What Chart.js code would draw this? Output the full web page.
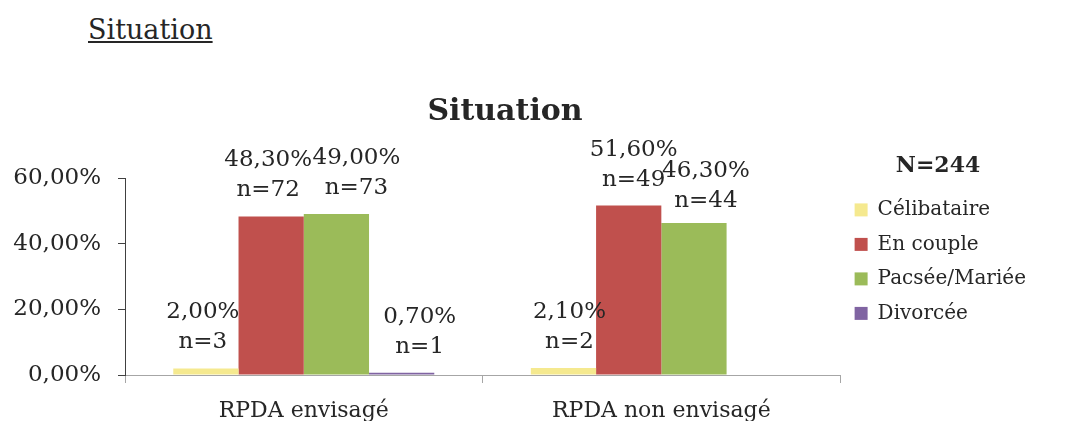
<!DOCTYPE html>
<html lang="fr">
<head>
<meta charset="utf-8">
<script src="https://cdn.jsdelivr.net/npm/chart.js@4/dist/chart.umd.min.js"></script>
<style>
html, body { margin:0; padding:0; background:#fff; width:1088px; height:421px; overflow:hidden; }
#entete { position:absolute; left:88px; top:14px; font-family:'DejaVu Serif', serif; font-size:27px; color:#262626; text-decoration:underline; }
#zone { position:absolute; left:-26px; top:0; width:1114px; height:421px; }
</style>
</head>
<body>
<div id="entete">Situation</div>
<div id="zone"><canvas id="graphe"></canvas></div>
<script>
const categories = ['RPDA envisagé', 'RPDA non envisagé'];
const series = ['Célibataire', 'En couple', 'Pacsée/Mariée', 'Divorcée'];
const celibataire = [2.0, 2.1];
const enCouple = [48.3, 51.6];
const pacsee = [49.0, 46.3];
const divorcee = [0.7, null];
const nCelibataire = [3, 2];
const nEnCouple = [72, 49];
const nPacsee = [73, 44];
const nDivorcee = [1, null];
const yTicks = [0, 20, 40, 60];

const couleurs = ['#F5E98F', '#C0504D', '#9BBB59', '#8064A2'];
const texte = '#262626';
const police = "'DejaVu Serif', serif";

function pourcent(v) {
    return v.toFixed(2).replace('.', ',') + '%';
}

// etiquettes "xx,xx%" + "n=.." au dessus des barres
const etiquettes = {
    id: 'etiquettes',
    afterDatasetsDraw(chart, args, opts) {
        const ctx = chart.ctx;
        ctx.save();
        ctx.font = '23px ' + police;
        ctx.fillStyle = texte;
        ctx.textAlign = 'center';
        ctx.textBaseline = 'middle';
        chart.data.datasets.forEach((ds, i) => {
            chart.getDatasetMeta(i).data.forEach((bar, j) => {
                const v = ds.data[j];
                if (v == null) return;
                const dx = opts.dx[i][j];
                const dy = opts.dy[i][j];
                ctx.fillText(pourcent(v), bar.x + dx, bar.y - 56 + dy);
                ctx.fillText('n=' + ds.effectifs[j], bar.x + dx, bar.y - 26 + dy);
            });
        });
        ctx.restore();
    }
};

const valeurs = [celibataire, enCouple, pacsee, divorcee];
const effectifs = [nCelibataire, nEnCouple, nPacsee, nDivorcee];

const ctx = document.getElementById('graphe').getContext('2d');
new Chart(ctx, {
    type: 'bar',
    data: {
        labels: categories,
        datasets: series.map((nom, i) => ({
            label: nom,
            data: valeurs[i],
            effectifs: effectifs[i],
            backgroundColor: couleurs[i],
            borderWidth: 0,
            categoryPercentage: 0.73,
            barPercentage: 1.0
        }))
    },
    options: {
        responsive: true,
        maintainAspectRatio: false,
        animation: false,
        layout: { padding: { top: 94, left: 0, right: 52, bottom: 0 } },
        scales: {
            x: {
                grid: { display: true, drawOnChartArea: false, offset: true, tickLength: 8, color: '#A6A6A6' },
                border: { color: '#A6A6A6' },
                ticks: { font: { family: police, size: 22 }, color: texte, padding: 15 },
                afterFit(scale) { scale.height = 46; }
            },
            y: {
                min: 0,
                max: 60,
                afterBuildTicks(scale) { scale.ticks = yTicks.map(v => ({ value: v })); },
                grid: { display: true, drawOnChartArea: false, tickLength: 7, color: '#404040' },
                border: { color: '#404040' },
                ticks: {
                    font: { family: police, size: 23 },
                    color: texte,
                    padding: 17,
                    callback: v => pourcent(v)
                },
                afterFit(scale) { scale.width = 151; }
            }
        },
        plugins: {
            title: {
                display: true,
                text: 'Situation',
                color: texte,
                font: { family: police, size: 30, weight: 'bold' },
                padding: { top: 0, bottom: 48 }
            },
            legend: {
                position: 'right',
                align: 'start',
                title: {
                    display: true,
                    text: 'N=244',
                    color: texte,
                    font: { family: police, size: 22, weight: 'bold' },
                    padding: { top: 61, bottom: 4 }
                },
                labels: {
                    boxWidth: 13,
                    boxHeight: 13,
                    padding: 14.5,
                    color: texte,
                    font: { family: police, size: 20 }
                }
            },
            tooltip: { enabled: false },
            etiquettes: {
                dx: [[-3, 6], [-3, 5], [20, 12], [18, 0]],
                dy: [[0, 0], [0, 0], [0, 4], [0, 0]]
            }
        }
    },
    plugins: [etiquettes]
});
</script>
</body>
</html>
